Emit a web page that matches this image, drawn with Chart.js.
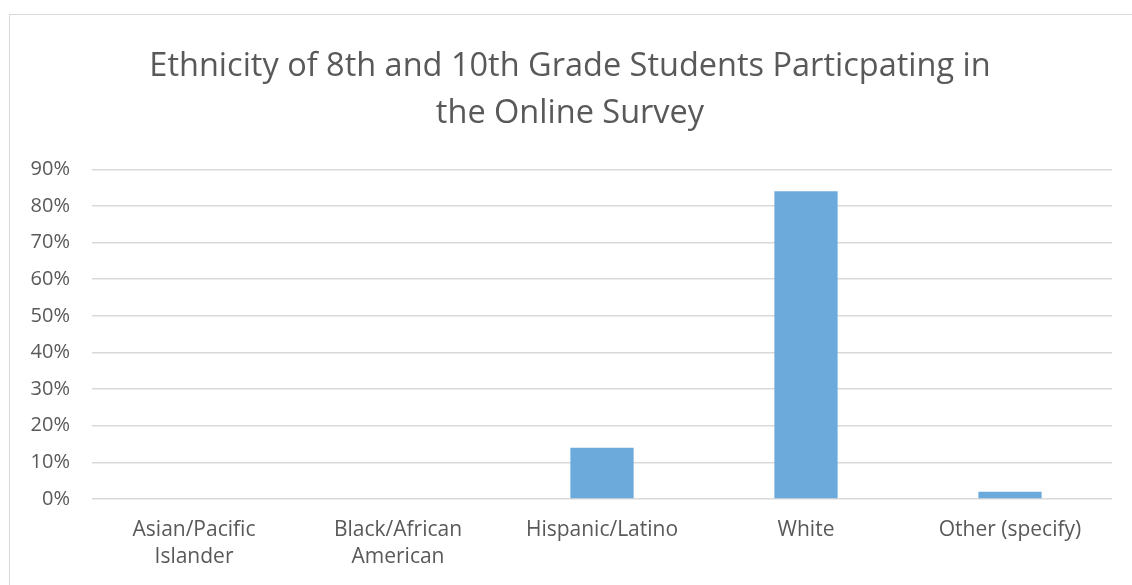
<!DOCTYPE html>
<html>
<head>
<meta charset="utf-8">
<script src="https://cdn.jsdelivr.net/npm/chart.js@4/dist/chart.umd.min.js"></script>
<style>
  html, body { margin: 0; padding: 0; background: #fff; }
  #wrap { position: relative; width: 1132px; height: 585px; overflow: hidden; }
  #frame { position: absolute; left: 9px; top: 14px; width: 1140px; height: 600px; border: 1.5px solid #d9d9d9; box-sizing: border-box; }
  #c { position: absolute; left: 0; top: 0; }
</style>
</head>
<body>
<div id="wrap">
  <div id="frame"></div>
  <canvas id="c" width="1132" height="585"></canvas>
</div>
<script>
const categories = [["Asian/Pacific", "Islander"], ["Black/African", "American"], "Hispanic/Latino", "White", "Other (specify)"];
const values = [0, 0, 0.14, 0.84, 0.02];
const yTicks = [0, 0.1, 0.2, 0.3, 0.4, 0.5, 0.6, 0.7, 0.8, 0.9];
const titleLines = ["Ethnicity of 8th and 10th Grade Students Particpating in", "the Online Survey"];

const FONT = "'Open Sans', 'Noto Sans', sans-serif";
const TXT = "#595959";

new Chart(document.getElementById('c'), {
  type: 'bar',
  data: {
    labels: categories,
    datasets: [{
      data: values,
      backgroundColor: '#6caadc',
      borderWidth: 0,
      categoryPercentage: 1,
      barPercentage: 0.31
    }]
  },
  options: {
    responsive: false,
    animation: false,
    devicePixelRatio: 1,
    layout: { padding: { left: 28, right: 20, top: 43, bottom: 16 } },
    plugins: {
      legend: { display: false },
      tooltip: { enabled: false },
      title: {
        display: true,
        text: titleLines,
        color: TXT,
        font: { family: FONT, size: 32.5, weight: 'normal', lineHeight: 1.45 },
        padding: { top: 0, bottom: 32 }
      }
    },
    scales: {
      x: {
        grid: { display: false, drawTicks: false },
        border: { display: false },
        afterFit: (s) => { s.paddingLeft = 0; s.paddingRight = 0; s.height = 70; },
        ticks: {
          color: TXT,
          font: { family: FONT, size: 21, lineHeight: 1.286 },
          padding: 18,
          maxRotation: 0,
          autoSkip: false
        }
      },
      y: {
        min: 0,
        max: 0.9,
        afterBuildTicks: (axis) => { axis.ticks = yTicks.map(v => ({ value: v })); },
        afterFit: (s) => { s.width = 64; },
        grid: { color: '#d9d9d9', lineWidth: 1.5, drawTicks: false },
        border: { display: false },
        ticks: {
          color: TXT,
          font: { family: FONT, size: 20 },
          padding: 22,
          callback: (v) => Math.round(v * 100) + '%'
        }
      }
    }
  }
});
</script>
</body>
</html>
